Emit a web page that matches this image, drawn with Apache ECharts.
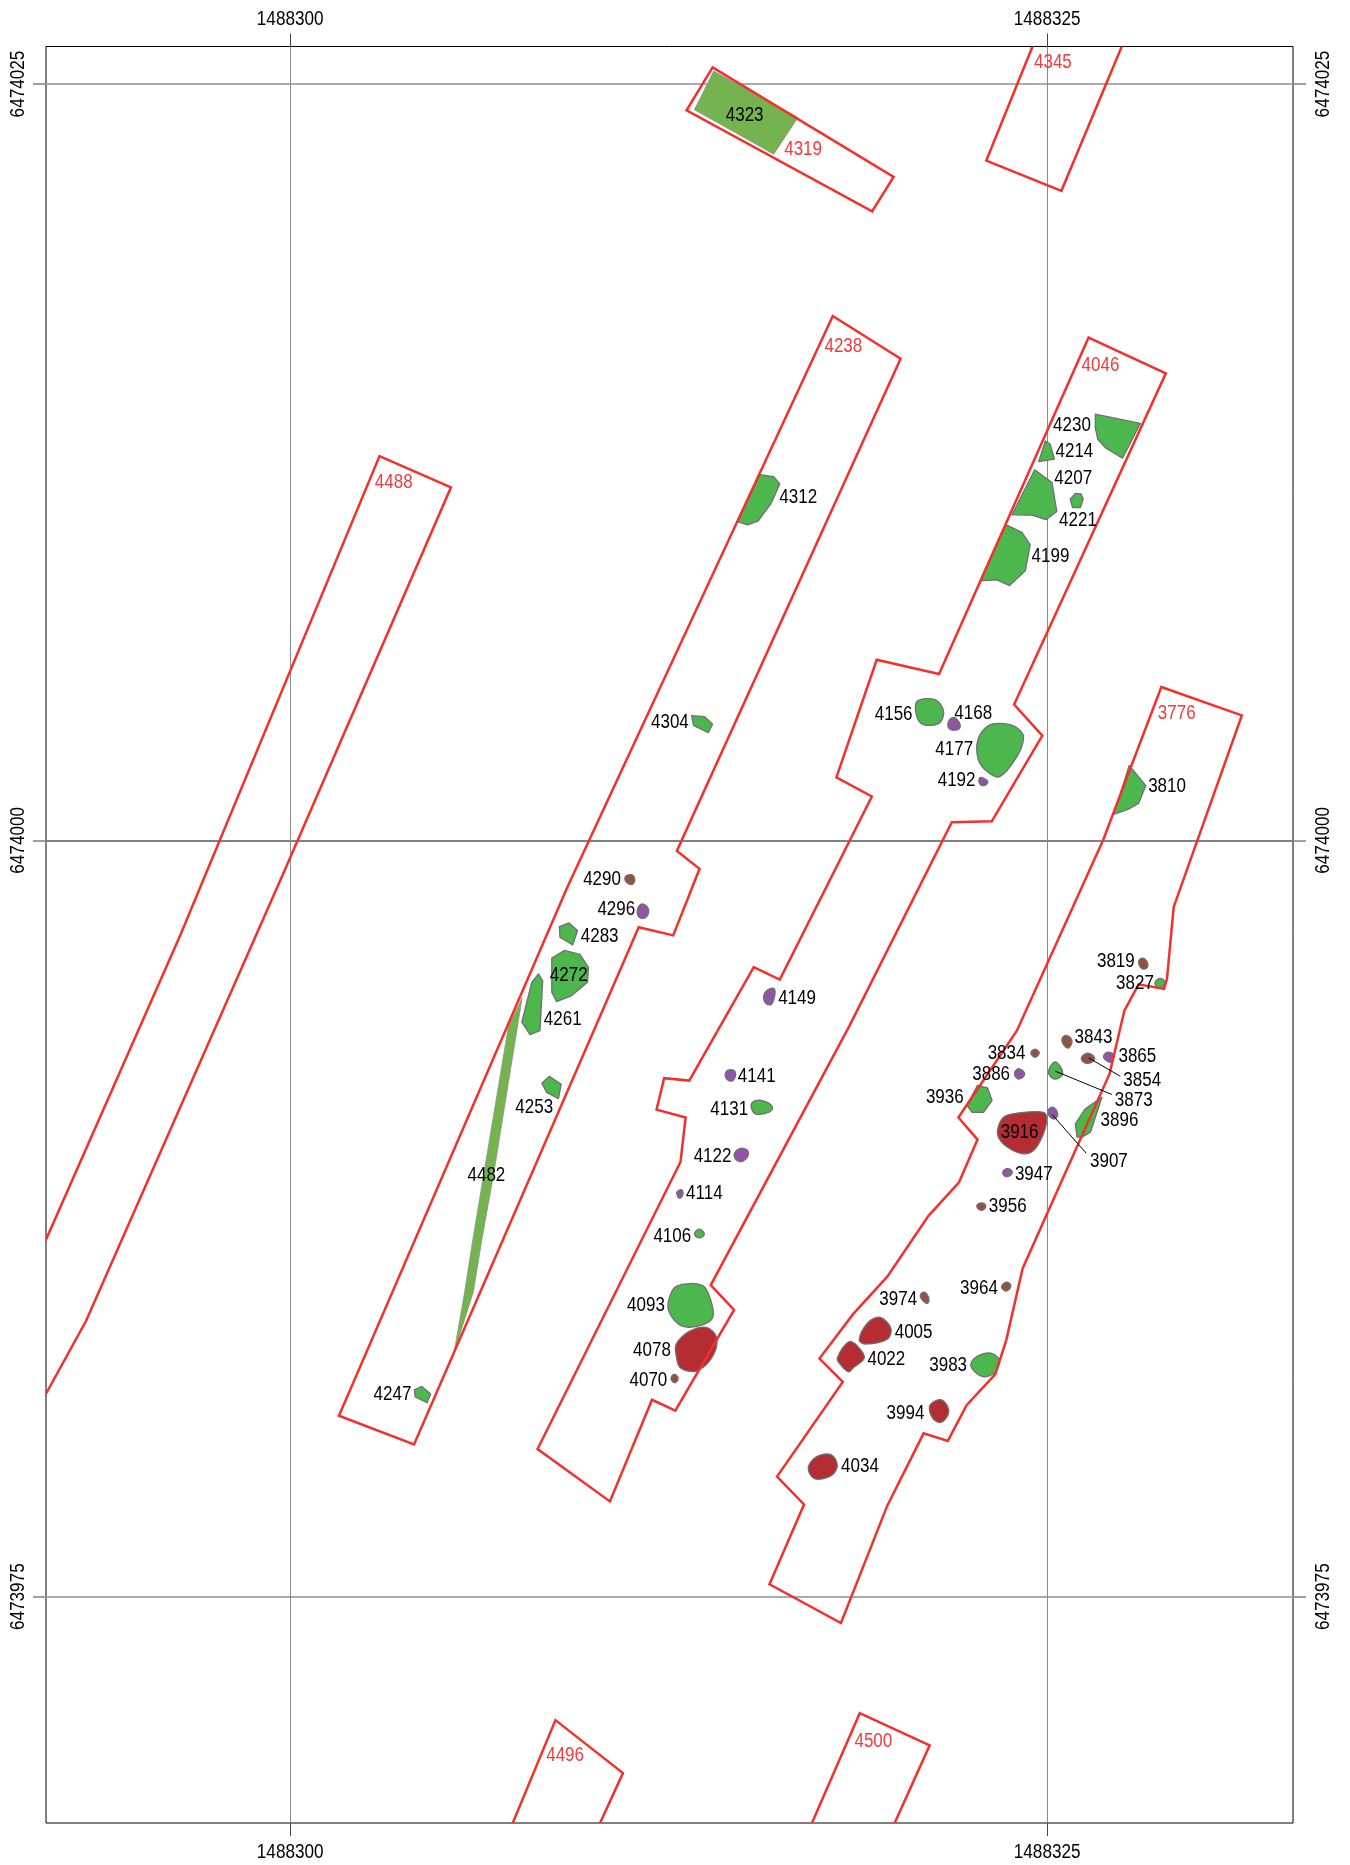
<!DOCTYPE html>
<html>
<head>
<meta charset="utf-8">
<style>html,body{margin:0;padding:0;background:#fff}#c{width:1350px;height:1865px}</style>
<script src="https://cdn.jsdelivr.net/npm/echarts@6/dist/echarts.min.js"></script>
</head>
<body>
<div id="c"></div>
<script>
// Survey origin; every vertex below is metres east / north of this point.
const E0 = 1488300, N0 = 6474000;
const eastingTicks = [1488300, 1488325];
const northingTicks = [6473975, 6474000, 6474025];

// Trench outlines (closed)
const t4238 = [[17.92,17.33],[20.16,15.92],[12.77,-0.35],[13.52,-0.94],[12.65,-3.14],[11.51,-2.87],[4.09,-19.97],[1.61,-19.02],[9.16,-1.53]];
const t4319 = [[13.95,25.55],[19.93,21.93],[19.22,20.79],[13.09,24.13]];
const t4046 = [[26.37,16.62],[28.92,15.44],[23.91,4.49],[24.84,3.46],[23.17,0.63],[21.85,0.60],[18.47,-6.13],[13.89,-14.70],[14.66,-15.52],[12.72,-18.85],[11.95,-18.49],[10.56,-21.85],[8.17,-20.12],[12.89,-10.63],[13.06,-9.16],[12.10,-8.90],[12.35,-7.86],[13.18,-7.94],[15.31,-4.19],[16.17,-4.60],[19.21,1.45],[18.04,2.08],[19.37,5.97],[21.43,5.50]];
const t3776 = [[28.77,5.07],[31.43,4.13],[29.18,-2.20],[28.96,-4.56],[28.86,-4.91],[28.02,-4.76],[27.55,-5.63],[27.06,-7.72],[24.19,-14.15],[23.65,-16.52],[23.29,-17.64],[22.34,-18.67],[21.72,-19.85],[20.92,-19.60],[19.72,-21.99],[18.19,-25.87],[15.83,-24.59],[16.97,-21.95],[16.08,-21.03],[18.25,-17.90],[17.48,-17.13],[18.59,-15.66],[19.72,-14.42],[21.08,-12.41],[22.09,-11.30],[22.70,-9.89],[22.07,-9.16],[24.00,-6.29],[26.85,0.01]];
// Trench outlines cut by the map frame (open)
const t4488 = [[-8.07,-13.21],[-3.62,-3.11],[2.95,12.70],[5.31,11.67],[-0.16,-0.94],[-6.74,-15.88],[-8.07,-18.30]];
const t4345 = [[24.54,26.3],[22.99,22.47],[25.47,21.47],[27.49,26.3]];
const t4496 = [[7.30,-32.6],[8.76,-29.08],[10.99,-30.83],[10.18,-32.6]];
const t4500 = [[17.18,-32.6],[18.81,-28.85],[21.12,-29.91],[19.91,-32.6]];

// Feature outlines
const f4323 = [[13.99,25.43],[13.35,24.15],[15.97,22.68],[16.77,23.89]];
const f4482 = [[7.66,-5.21],[6.72,-11.04],[6.33,-13.20],[6.05,-14.93],[5.41,-16.94],[5.76,-14.93],[6.03,-13.20],[6.39,-11.04],[7.21,-6.13]];
const f4312 = [[15.51,12.09],[15.97,12.02],[16.17,11.78],[15.89,11.15],[15.46,10.56],[15.11,10.43],[14.78,10.53]];
const f4230 = [[26.59,14.09],[28.08,13.78],[27.49,12.63],[26.92,12.98],[26.67,13.26],[26.59,13.64]];
const f4214 = [[24.94,13.20],[25.10,13.10],[25.24,12.60],[24.72,12.52]];
const f4207 = [[24.59,12.25],[25.16,11.83],[25.32,10.87],[24.96,10.60],[24.50,10.75],[23.84,10.76]];
const f4221 = [[25.93,11.47],[26.12,11.45],[26.19,11.28],[26.10,11.00],[25.84,11.00],[25.76,11.28]];
const f4199 = [[23.65,10.43],[24.17,10.18],[24.44,9.77],[24.28,8.91],[23.76,8.42],[23.34,8.61],[22.79,8.58]];
const f4304 = [[13.26,4.12],[13.69,4.09],[13.95,3.84],[13.81,3.56],[13.32,3.80]];
const f4156 = [[20.72,4.61],[21.29,4.65],[21.57,4.32],[21.49,3.93],[21.14,3.80],[20.81,3.89],[20.66,4.25]];
const f4177 = [[22.72,3.34],[23.08,3.80],[23.56,3.86],[23.99,3.73],[24.22,3.41],[23.99,2.75],[23.42,2.10],[23.00,2.29],[22.72,2.69]];
const f3810 = [[27.71,2.48],[28.26,1.81],[28.02,1.22],[27.67,1.02],[27.20,0.86]];
const f4283 = [[8.89,-2.85],[9.21,-2.73],[9.49,-2.98],[9.33,-3.46],[8.91,-3.20]];
const f4272 = [[8.64,-3.89],[9.05,-3.64],[9.57,-3.77],[9.85,-4.20],[9.82,-4.69],[9.30,-5.13],[8.80,-5.33],[8.64,-5.02]];
const f4261 = [[8.20,-4.41],[8.34,-4.64],[8.25,-6.29],[7.92,-6.42],[7.65,-6.01],[7.98,-4.69]];
const f4253 = [[8.31,-8.03],[8.56,-7.80],[8.95,-8.06],[8.86,-8.54],[8.47,-8.33]];
const f4131 = [[15.22,-8.76],[15.36,-8.60],[15.74,-8.65],[15.93,-8.84],[15.80,-8.99],[15.36,-9.04]];
const f4106 = [[13.36,-12.97],[13.52,-12.85],[13.68,-13.01],[13.56,-13.13],[13.40,-13.09]];
const f4093 = [[12.75,-14.74],[13.61,-14.71],[13.89,-15.20],[13.95,-15.79],[13.46,-16.06],[12.89,-16.03],[12.52,-15.60],[12.50,-15.20]];
const f4247 = [[4.10,-18.16],[4.35,-18.05],[4.64,-18.30],[4.52,-18.59],[4.13,-18.40]];
const f3827 = [[28.57,-4.68],[28.73,-4.56],[28.89,-4.68],[28.77,-4.87],[28.61,-4.83]];
const f3873 = [[25.05,-7.61],[25.24,-7.33],[25.41,-7.44],[25.51,-7.72],[25.32,-7.88],[25.13,-7.83]];
const f3936 = [[22.35,-8.76],[22.70,-8.10],[23.03,-8.18],[23.18,-8.60],[22.90,-8.99],[22.52,-8.99]];
const f3896 = [[25.93,-9.37],[26.26,-8.87],[26.81,-8.49],[26.43,-9.65],[26.15,-9.81],[25.99,-9.81]];
const f3983 = [[22.48,-17.31],[22.72,-17.04],[23.14,-16.95],[23.42,-17.18],[23.28,-17.57],[22.94,-17.73],[22.62,-17.57]];

const f4078 = [[12.75,-16.65],[13.18,-16.23],[13.75,-16.10],[14.09,-16.45],[13.92,-17.11],[13.41,-17.54],[12.89,-17.44],[12.75,-17.04]];
const f3916 = [[23.36,-9.59],[23.56,-9.15],[24.00,-9.02],[24.89,-8.99],[24.99,-9.26],[24.83,-9.81],[24.55,-10.25],[24.22,-10.36],[23.78,-10.20],[23.45,-9.92]];
const f4005 = [[18.79,-16.52],[19.09,-15.93],[19.49,-15.77],[19.84,-16.13],[19.72,-16.49],[19.01,-16.65]];
const f4022 = [[18.07,-17.11],[18.44,-16.58],[18.73,-16.71],[18.96,-17.11],[18.59,-17.44],[18.44,-17.57],[18.16,-17.31]];
const f3994 = [[21.12,-18.69],[21.43,-18.49],[21.66,-18.62],[21.74,-18.95],[21.49,-19.24],[21.21,-19.09]];
const f4034 = [[17.11,-20.73],[17.39,-20.37],[17.87,-20.31],[18.07,-20.66],[17.87,-21.00],[17.31,-21.10]];

const f4290 = [[11.06,-1.22],[11.25,-1.13],[11.37,-1.24],[11.32,-1.44],[11.14,-1.42]];
const f4070 = [[12.58,-17.76],[12.69,-17.65],[12.81,-17.76],[12.73,-17.92],[12.62,-17.88]];
const f3819 = [[28.02,-4.01],[28.14,-3.89],[28.30,-4.01],[28.30,-4.21],[28.14,-4.24]];
const f3843 = [[25.49,-6.56],[25.64,-6.45],[25.82,-6.62],[25.71,-6.86],[25.56,-6.78]];
const f3834 = [[24.46,-7.03],[24.60,-6.90],[24.74,-7.03],[24.60,-7.17]];
const f3854 = [[26.13,-7.20],[26.34,-7.03],[26.57,-7.19],[26.48,-7.33],[26.26,-7.36]];
const f3956 = [[22.68,-12.07],[22.83,-11.98],[22.97,-12.07],[22.90,-12.21],[22.76,-12.21]];
const f3964 = [[23.50,-14.74],[23.66,-14.60],[23.80,-14.70],[23.70,-14.88],[23.56,-14.86]];
const f3974 = [[20.81,-15.05],[20.93,-14.93],[21.08,-15.09],[21.06,-15.29],[20.93,-15.25]];

const f4168 = [[21.85,4.05],[22.01,4.01],[22.13,3.77],[22.01,3.65],[21.77,3.69],[21.73,3.89]];
const f4192 = [[22.79,2.08],[22.99,2.00],[23.03,1.89],[22.87,1.81],[22.75,1.93]];
const f4296 = [[11.47,-2.27],[11.63,-2.10],[11.83,-2.27],[11.75,-2.54],[11.53,-2.54]];
const f4149 = [[15.71,-4.99],[15.99,-4.91],[15.96,-5.30],[15.83,-5.44],[15.65,-5.30]];
const f4141 = [[14.37,-7.72],[14.53,-7.58],[14.70,-7.66],[14.64,-7.92],[14.47,-7.94]];
const f4122 = [[14.66,-10.41],[14.78,-10.22],[14.97,-10.18],[15.13,-10.30],[15.05,-10.53],[14.82,-10.61]];
const f4114 = [[12.77,-11.63],[12.93,-11.55],[12.97,-11.71],[12.85,-11.83]];
const f3865 = [[26.87,-7.11],[27.03,-7.00],[27.20,-7.11],[27.11,-7.33],[26.92,-7.25]];
const f3886 = [[23.93,-7.66],[24.08,-7.55],[24.26,-7.72],[24.11,-7.88],[23.97,-7.83]];
const f3907 = [[25.03,-8.93],[25.19,-8.82],[25.35,-9.04],[25.27,-9.20],[25.10,-9.15]];
const f3947 = [[23.53,-10.97],[23.67,-10.85],[23.84,-10.94],[23.78,-11.08],[23.62,-11.11]];

// Leader lines from a feature to its number
const leader3854 = [[26.37,-7.19],[27.42,-7.80]];
const leader3873 = [[25.27,-7.63],[27.14,-8.40]];
const leader3907 = [[25.16,-9.06],[26.29,-10.34]];

// Context numbers: [number, metres east, metres north]
const featureLabels = [["4323",15.01,23.97],["4312",16.78,11.32],["4230",25.82,13.72],["4214",25.90,12.85],["4207",25.86,11.95],["4221",26.02,10.57],["4199",25.11,9.39],["4304",12.54,3.89],["4156",19.93,4.17],["4168",22.56,4.21],["4177",21.93,2.99],["4192",22.01,1.97],["3810",28.96,1.77],["4290",10.30,-1.30],["4296",10.77,-2.28],["4283",10.22,-3.18],["4272",9.20,-4.48],["4261",9.00,-5.93],["4253",8.06,-8.84],["4482",6.48,-11.08],["4149",16.74,-5.23],["4141",15.41,-7.82],["4131",14.50,-8.88],["4122",13.95,-10.45],["4114",13.68,-11.67],["4106",12.62,-13.09],["4093",11.75,-15.37],["4078",11.95,-16.86],["4070",11.83,-17.84],["4247",3.38,-18.31],["3819",27.27,-4.01],["3827",27.90,-4.72],["3843",26.53,-6.52],["3834",23.66,-7.03],["3865",27.98,-7.15],["3854",28.14,-7.94],["3886",23.15,-7.74],["3873",27.86,-8.61],["3936",21.62,-8.49],["3896",27.39,-9.27],["3916",24.09,-9.67],["3907",27.04,-10.61],["3947",24.56,-11.04],["3956",23.70,-12.10],["3964",22.75,-14.82],["3974",20.08,-15.17],["4005",20.59,-16.27],["4022",19.69,-17.17],["3983",21.73,-17.37],["3994",20.32,-18.94],["4034",18.82,-20.71]];
const trenchLabels = [["4345",25.19,25.70],["4319",16.94,22.83],["4238",18.27,16.31],["4046",26.76,15.68],["4488",3.42,11.83],["3776",29.28,4.21],["4496",9.08,-30.26],["4500",19.26,-29.79]];

const closedTrenches = [t4238,t4319,t4046,t3776];
const openTrenches = [t4488,t4345,t4496,t4500];
const oliveFeatures = [f4323,f4482];
const greenAngular = [f4312,f4230,f4214,f4207,f4221,f4199,f4304,f3810,f4283,f4272,f4261,f4253,f4247,f3936,f3896];
const greenRound = [f4156,f4177,f4131,f4106,f4093,f3827,f3873,f3983];
const redFeatures = [f4078,f3916,f4005,f4022,f3994,f4034];
const brownFeatures = [f4290,f4070,f3819,f3843,f3834,f3854,f3956,f3964,f3974];
const purpleFeatures = [f4168,f4192,f4296,f4149,f4141,f4122,f4114,f3865,f3886,f3907,f3947];
const leaders = [leader3854,leader3873,leader3907];

const FONT = '"Liberation Sans", Arial, sans-serif';
const XMIN = E0 - 8.065, XMAX = E0 + 33.12, YMIN = N0 - 32.48, YMAX = N0 + 26.24;

function shapeSeries(list, kind, style, z, smooth) {
  return {
    type: 'custom', coordinateSystem: 'cartesian2d', clip: true, silent: true, z: z,
    data: list.map((p, i) => [E0 + p[0][0], N0 + p[0][1], i]),
    renderItem: function (params, api) {
      const pts = list[api.value(2)].map(v => api.coord([E0 + v[0], N0 + v[1]]));
      const shape = { points: pts };
      if (smooth) shape.smooth = smooth;
      return { type: kind, shape: shape, style: style };
    }
  };
}
function labelSeries(list, color, z) {
  return {
    type: 'custom', coordinateSystem: 'cartesian2d', clip: false, silent: true, z: z,
    data: list.map((l, i) => [E0 + l[1], N0 + l[2], i]),
    renderItem: function (params, api) {
      const l = list[api.value(2)];
      const c = api.coord([E0 + l[1], N0 + l[2]]);
      return { type: 'text', x: c[0], y: c[1], scaleX: 0.85,
        style: { text: l[0], fill: color, font: '20px ' + FONT, textAlign: 'center', textVerticalAlign: 'middle' } };
    }
  };
}
// Condensed tick labels: placed from the axis scale, offset outward from the frame.
function tickLabelSeries(ticks, fixed, isX, offset) {
  return {
    type: 'custom', coordinateSystem: 'cartesian2d', clip: false, silent: true, z: 6,
    data: ticks.map(t => isX ? [t, fixed] : [fixed, t]),
    renderItem: function (params, api) {
      const vx = api.value(0), vy = api.value(1);
      const c = api.coord([vx, vy]);
      return { type: 'text', x: c[0] + (isX ? 0 : offset), y: c[1] + (isX ? offset : 0),
        rotation: isX ? 0 : Math.PI / 2, scaleX: 0.857,
        style: { text: String(Math.round(isX ? vx : vy)), fill: '#000', font: '20px ' + FONT, textAlign: 'center', textVerticalAlign: 'middle' } };
    }
  };
}
const outlineGrey = '#707070';
const trenchLine = { fill: 'none', stroke: '#f2302c', lineWidth: 2.5, lineJoin: 'miter' };
const blob = c => ({ fill: c, stroke: outlineGrey, lineWidth: 1.3, lineJoin: 'round' });

const chart = echarts.init(document.getElementById('c'), null, { renderer: 'canvas' });

function xAxisFor(pos) {
  return { type: 'value', position: pos, min: XMIN, max: XMAX,
    axisLine: { show: false },
    axisTick: { show: true, length: 13, customValues: eastingTicks, lineStyle: { color: '#444', width: 1 } },
    splitLine: { show: true, lineStyle: { color: '#8a8a8a', width: 1 } },
    axisLabel: { show: false, customValues: eastingTicks } };
}
function yAxisFor(pos) {
  return { type: 'value', position: pos, min: YMIN, max: YMAX,
    axisLine: { show: false },
    axisTick: { show: true, length: 13, customValues: northingTicks, lineStyle: { color: '#808080', width: 1.5 } },
    splitLine: { show: true, lineStyle: { color: ['#a6a6a6', '#787878', '#a6a6a6'], width: 1.5 } },
    axisLabel: { show: false, customValues: northingTicks } };
}

chart.setOption({
  animation: false,
  backgroundColor: '#fff',
  grid: { left: 46, right: 57, top: 46.5, bottom: 42, show: true, borderColor: '#000', borderWidth: 1, backgroundColor: 'transparent' },
  xAxis: [xAxisFor('bottom'), xAxisFor('top')],
  yAxis: [yAxisFor('left'), yAxisFor('right')],
  series: [
    shapeSeries(oliveFeatures, 'polygon', { fill: '#74b350', stroke: '#8a8f86', lineWidth: 0.7 }, 3),
    shapeSeries(greenAngular, 'polygon', blob('#4bb74d'), 3),
    shapeSeries(greenRound, 'polygon', blob('#4bb74d'), 3, 0.35),
    shapeSeries(redFeatures, 'polygon', blob('#b32d33'), 3, 0.35),
    shapeSeries(brownFeatures, 'polygon', blob('#95503e'), 3, 0.4),
    shapeSeries(purpleFeatures, 'polygon', blob('#9154a6'), 3, 0.4),
    shapeSeries(closedTrenches, 'polygon', trenchLine, 4),
    shapeSeries(openTrenches, 'polyline', trenchLine, 4),
    shapeSeries(leaders, 'polyline', { fill: 'none', stroke: '#000', lineWidth: 1 }, 5),
    labelSeries(featureLabels, '#000', 6),
    labelSeries(trenchLabels, '#f23a3a', 6),
    tickLabelSeries(eastingTicks, YMAX, true, -27.5),
    tickLabelSeries(eastingTicks, YMIN, true, 29),
    tickLabelSeries(northingTicks, XMIN, false, -28),
    tickLabelSeries(northingTicks, XMAX, false, 30)
  ]
});
</script>
</body>
</html>
